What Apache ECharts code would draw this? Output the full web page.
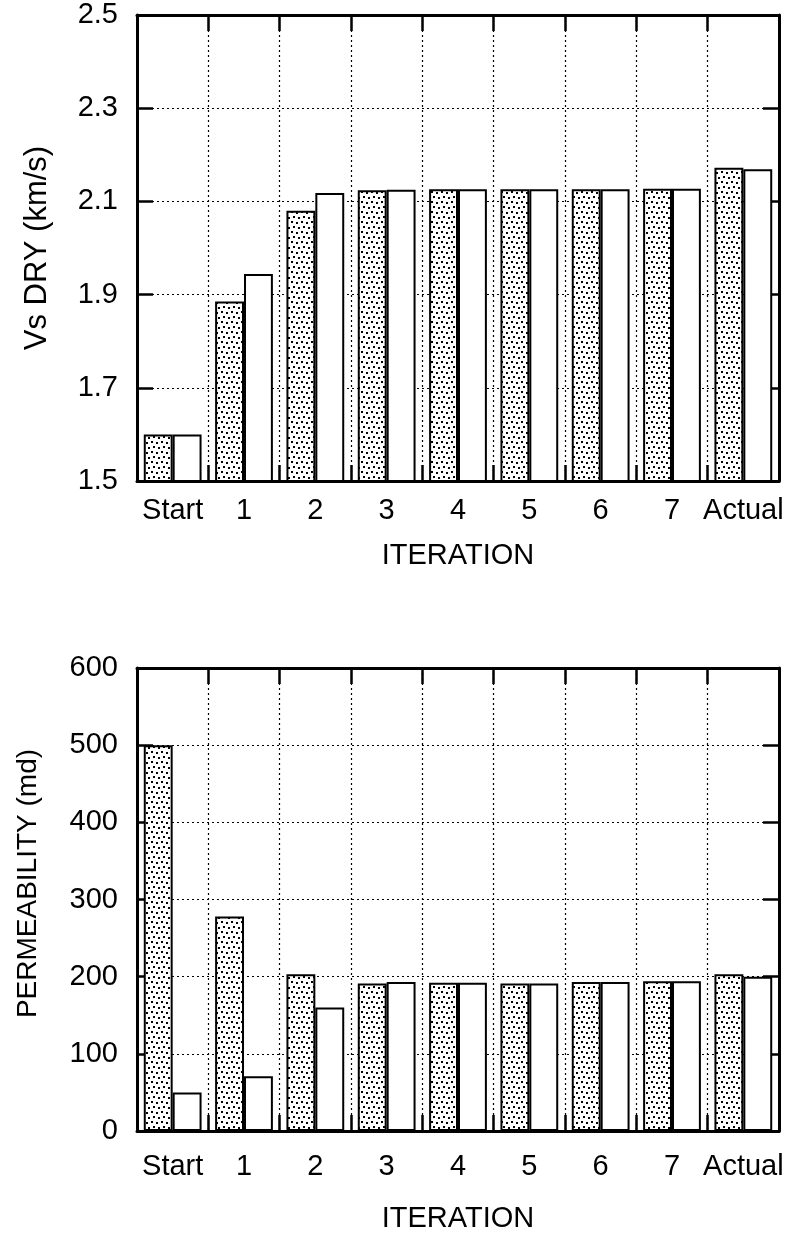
<!DOCTYPE html>
<html>
<head>
<meta charset="utf-8">
<script src="https://cdn.jsdelivr.net/npm/echarts@6/dist/echarts.min.js"></script>
<style>
  html, body { margin: 0; padding: 0; background: #fff; }
  #chart { width: 796px; height: 1240px; }
</style>
</head>
<body>
<div id="chart"></div>
<script>
// data
const categories = ['Start', '1', '2', '3', '4', '5', '6', '7', 'Actual'];
const vsTicks = [1.5, 1.7, 1.9, 2.1, 2.3, 2.5];
const vsStippled = [1.60, 1.885, 2.08, 2.124, 2.126, 2.126, 2.126, 2.127, 2.172];
const vsOpen = [1.60, 1.944, 2.118, 2.125, 2.126, 2.126, 2.126, 2.127, 2.169];
const permTicks = [0, 100, 200, 300, 400, 500, 600];
const permStippled = [500, 278, 203, 191, 192, 191, 193, 194, 203];
const permOpen = [50, 71, 160, 193, 192, 191, 193, 194, 200];

const FONT = '"Liberation Sans", Arial, Helvetica, sans-serif';

// stipple fill for the first bar of each pair
function makeStipple() {
  const c = document.createElement('canvas');
  c.width = 10;
  c.height = 10;
  const ctx = c.getContext('2d');
  ctx.fillStyle = '#fff';
  ctx.fillRect(0, 0, 10, 10);
  ctx.fillStyle = '#000';
  [[1, 1], [6, 2], [3, 6], [8, 7]].forEach(function (p) {
    ctx.fillRect(p[0], p[1], 2, 2);
  });
  return c;
}
const stipple = { image: makeStipple(), repeat: 'repeat' };

const dotted = { color: '#000', width: 1.2, type: [2, 3] };
// onZero off, otherwise the top axis of the lower chart drops onto y = 0
const frame = { show: true, onZero: false, lineStyle: { color: '#000', width: 3 } };
const tick = { show: true, inside: true, length: 16, lineStyle: { color: '#000', width: 2.5 } };

function xAxes(gridIndex, labelMargin, nameGap) {
  return [
    {
      gridIndex: gridIndex,
      type: 'category',
      data: categories,
      position: 'bottom',
      name: 'ITERATION',
      nameLocation: 'middle',
      nameGap: nameGap,
      nameTextStyle: { fontFamily: FONT, fontSize: 29, color: '#000' },
      axisLine: frame,
      axisTick: Object.assign({ interval: 0 }, tick),
      axisLabel: { interval: 0, margin: labelMargin, fontFamily: FONT, fontSize: 29, color: '#000' },
      splitLine: { show: true, interval: 0, lineStyle: dotted }
    },
    {
      gridIndex: gridIndex,
      type: 'category',
      data: categories,
      position: 'top',
      axisLine: frame,
      axisTick: Object.assign({ interval: 0 }, tick),
      axisLabel: { show: false },
      splitLine: { show: false }
    }
  ];
}

function yAxes(gridIndex, ticks, name, nameSize, nameGap, namePad, fmt) {
  const min = ticks[0];
  const max = ticks[ticks.length - 1];
  const interval = ticks[1] - ticks[0];
  return [
    {
      gridIndex: gridIndex,
      type: 'value',
      position: 'left',
      min: min,
      max: max,
      interval: interval,
      name: name,
      nameLocation: 'middle',
      nameGap: nameGap,
      nameTextStyle: { fontFamily: FONT, fontSize: nameSize, color: '#000', padding: namePad },
      axisLine: frame,
      axisTick: tick,
      axisLabel: { margin: 19, fontFamily: FONT, fontSize: 29, color: '#000', formatter: fmt },
      splitLine: { show: true, lineStyle: dotted }
    },
    {
      gridIndex: gridIndex,
      type: 'value',
      position: 'right',
      min: min,
      max: max,
      interval: interval,
      axisLine: frame,
      axisTick: tick,
      axisLabel: { show: false },
      splitLine: { show: false }
    }
  ];
}

function barPair(xIndex, yIndex, first, second) {
  const common = {
    type: 'bar',
    xAxisIndex: xIndex,
    yAxisIndex: yIndex,
    barGap: '0%',
    barCategoryGap: '19%',
    animation: false
  };
  return [
    Object.assign({}, common, {
      data: first,
      itemStyle: { color: stipple, borderColor: '#000', borderWidth: 2 }
    }),
    Object.assign({}, common, {
      data: second,
      itemStyle: { color: '#fff', borderColor: '#000', borderWidth: 2 }
    })
  ];
}

const chart = echarts.init(document.getElementById('chart'), null, { renderer: 'canvas' });
chart.setOption({
  backgroundColor: '#fff',
  animation: false,
  grid: [
    { left: 137, top: 15, width: 642, height: 466 },
    { left: 137, top: 668, width: 642, height: 463 }
  ],
  xAxis: xAxes(0, 15, 60).concat(xAxes(1, 21, 73)),
  yAxis: yAxes(0, vsTicks, 'Vs DRY (km/s)', 31, 84, 0, function (v) { return v.toFixed(1); })
    .concat(yAxes(1, permTicks, 'PERMEABILITY (md)', 28, 95, [0, 0, 0, 32], function (v) { return String(v); })),
  series: barPair(0, 0, vsStippled, vsOpen).concat(barPair(2, 2, permStippled, permOpen))
});
</script>
</body>
</html>
